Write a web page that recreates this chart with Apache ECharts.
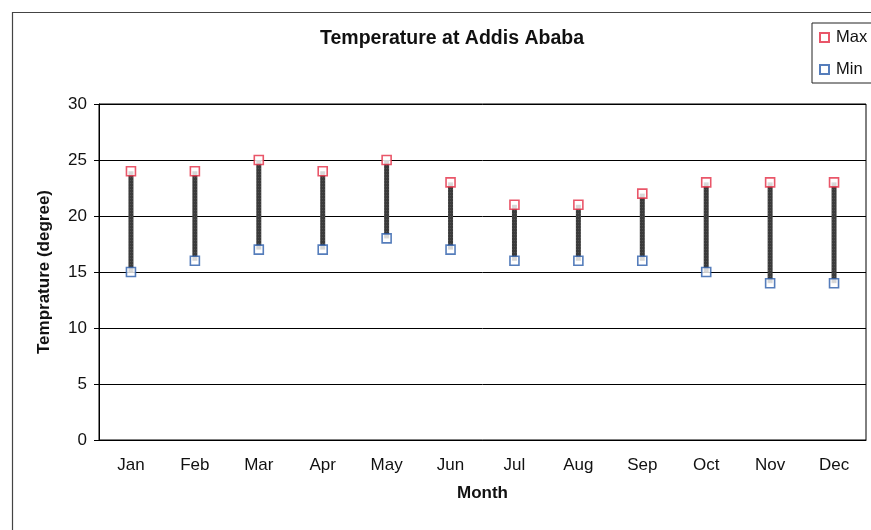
<!DOCTYPE html>
<html>
<head>
<meta charset="utf-8">
<script src="https://cdn.jsdelivr.net/npm/echarts@6/dist/echarts.min.js"></script>
<style>html,body{margin:0;padding:0;background:#fff}#c{width:871px;height:530px}</style>
</head>
<body>
<div id="c"></div>
<script>
const months = ['Jan','Feb','Mar','Apr','May','Jun','Jul','Aug','Sep','Oct','Nov','Dec'];
const maxTemp = [24,24,25,24,25,23,21,21,22,23,23,23];
const minTemp = [15,16,17,17,18,17,16,16,16,15,14,14];

const font = '"Liberation Sans", Arial, sans-serif';
const chart = echarts.init(document.getElementById('c'));
chart.setOption({
  backgroundColor: '#fff',
  animation: false,
  textStyle: { fontFamily: font },
  title: {
    text: 'Temperature at Addis Ababa',
    left: 447, top: 24, textAlign: 'center',
    textStyle: { fontFamily: font, fontSize: 19.5, fontWeight: 'bold', color: '#111' }
  },
  legend: {
    data: ['Max','Min'],
    orient: 'vertical',
    left: 812, top: 23,
    padding: [6, 30, 5, 7],
    itemGap: 15,
    itemWidth: 9, itemHeight: 9,
    borderColor: '#222', borderWidth: 1,
    textStyle: { fontFamily: font, fontSize: 16.5, color: '#111', padding: [0,0,0,2] }
  },
  graphic: [{
    type: 'rect', left: 10, top: 10,
    shape: { width: 900, height: 600 },
    style: { fill: 'none', stroke: '#444', lineWidth: 1.2 },
    silent: true
  }],
  grid: { left: 99, right: 5, top: 104, bottom: 90, show: true, borderColor: '#000', borderWidth: 1 },
  xAxis: {
    type: 'category', data: months, boundaryGap: true,
    name: 'Month', nameLocation: 'middle', nameGap: 45,
    nameTextStyle: { fontFamily: font, fontSize: 17, fontWeight: 'bold', color: '#111' },
    axisLine: { lineStyle: { color: '#000', width: 1 } },
    axisTick: { inside: true, length: 5, lineStyle: { color: '#000' } },
    axisLabel: { fontFamily: font, fontSize: 17, color: '#111', margin: 17 }
  },
  yAxis: {
    type: 'value', min: 0, max: 30, interval: 5,
    name: 'Temprature (degree)', nameLocation: 'middle', nameGap: 46,
    nameTextStyle: { fontFamily: font, fontSize: 17, fontWeight: 'bold', color: '#111' },
    axisLine: { show: true, lineStyle: { color: '#000', width: 1 } },
    axisTick: { show: true, inside: false, length: 5, lineStyle: { color: '#000' } },
    axisLabel: { fontFamily: font, fontSize: 17, color: '#111', margin: 12 },
    splitLine: { lineStyle: { color: '#000', width: 1 } }
  },
  series: [
    {
      name: 'base', type: 'bar', stack: 'r', data: minTemp, barWidth: 5,
      itemStyle: { color: 'transparent' }, silent: true, z: 2
    },
    {
      name: 'range', type: 'bar', stack: 'r', barWidth: 5,
      data: maxTemp.map((v, i) => v - minTemp[i]),
      itemStyle: {
        color: '#3a3a3a',
        decal: { symbol: 'rect', symbolSize: 0.6, color: 'rgba(200,200,200,0.55)', dashArrayX: [1, 1], dashArrayY: [1, 2], rotation: 0 }
      },
      silent: true, z: 2
    },
    {
      name: 'Max', type: 'scatter', data: maxTemp, symbol: 'rect', symbolSize: 9,
      itemStyle: { color: '#fff', borderColor: '#e42c44', borderWidth: 1.6 }, z: 5
    },
    {
      name: 'Min', type: 'scatter', data: minTemp, symbol: 'rect', symbolSize: 9,
      itemStyle: { color: '#fff', borderColor: '#2a5caa', borderWidth: 1.6 }, z: 5
    }
  ]
});
</script>
</body>
</html>
